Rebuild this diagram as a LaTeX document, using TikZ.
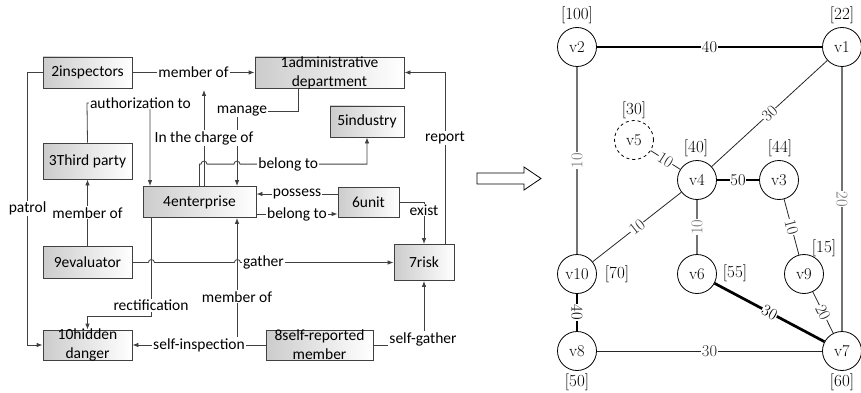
\documentclass[tikz,border=0pt]{standalone}
\usepackage{fontspec}
\newfontfamily\boxfont{Carlito}
\usetikzlibrary{arrows.meta}

\tikzset{
  box/.style={draw=black!75, line width=0.8pt, left color=black!20, right color=white,
    inner sep=0pt, font=\boxfont\fontsize{15.5}{19}\selectfont},
  boxtext/.style={inner sep=0pt, align=center, font=\boxfont\fontsize{15.5}{19}\selectfont},
  conn/.style={draw=black!75, line width=0.8pt},
  arr/.style={conn, -{Latex[length=6pt,width=4.5pt]}},
  lbl/.style={fill=white, inner sep=1pt, font=\boxfont\fontsize{15.5}{19}\selectfont},
  vert/.style={circle, draw, line width=0.8pt, minimum size=39pt, inner sep=0pt,
    font=\fontsize{16.5}{19}\selectfont},
  wt/.style={fill=white, inner sep=0.5pt, font=\fontsize{16.5}{19}\selectfont},
  val/.style={inner sep=0pt, font=\fontsize{17}{19}\selectfont},
  wthick/.style={line width=2.7pt},
  wthin/.style={line width=0.8pt, black!85},
  wgray/.style={line width=1.2pt, black!55},
}

\begin{document}
\begin{tikzpicture}[x=1pt,y=-1pt]
\useasboundingbox (0,0) rectangle (861,393);

% Boxes of the relation diagram
\node[box, minimum width=89pt, minimum height=31pt] (n2) at (87.5,72.5) {2inspectors};
\node[box, minimum width=149pt, minimum height=31pt] (n1) at (329.5,72.5) {};
\node[boxtext] (n1t) at (n1) {1administrative\\department};
\node[box, minimum width=74pt, minimum height=31pt] (n5) at (367,121.5) {5industry};
\node[box, minimum width=89pt, minimum height=36pt] (n3) at (87.5,161) {3Third party};
\node[box, minimum width=113pt, minimum height=31pt] (n4) at (199.5,202) {4enterprise};
\node[box, minimum width=61pt, minimum height=30pt] (n6) at (368.5,202) {6unit};
\node[box, minimum width=89pt, minimum height=32pt] (n9) at (87.5,262.5) {9evaluator};
\node[box, minimum width=60pt, minimum height=36pt] (n7) at (424,262.5) {7risk};
\node[box, minimum width=89pt, minimum height=30pt] (n10) at (87.5,345) {};
\node[boxtext] (n10t) at (n10) {10hidden\\danger};
\node[box, minimum width=107pt, minimum height=30pt] (n8) at (319.5,345) {};
\node[boxtext] (n8t) at (n8) {8self-reported\\member};

% Connectors
\draw[arr] (n2.east) -- node[lbl] {member of} (n1.west);
\draw[arr] ([xshift=-31.5pt]n1.south) |- (237,111) -- ([xshift=37.5pt]n4.north);
\node[lbl] (lmanage) at (242,111) {manage};
\coordinate (chargeend) at (204,90);
\draw[arr] ([xshift=4.5pt]n4.north) -- node[lbl] {In the charge of} (chargeend);
\draw[arr] (n3.north) -- (87,103) -- (150,103) -- ([xshift=-49.5pt]n4.north);
\node[lbl] (lauth) at (140.5,103) {authorization to};
\draw[arr] (n4.north) -- ++(0,-22) -- ++(1.5,0) arc[start angle=180, end angle=360, radius=3]
  -- ++(27,0) arc[start angle=180, end angle=360, radius=3]
  -| node[lbl, pos=0.19] {belong to} (n5.south);
\draw[arr] ([yshift=8pt]n6.west) -- node[lbl] {possess} ([yshift=8pt]n4.east);
\draw[arr] ([yshift=-12pt]n4.east) -- node[lbl] {belong to} ([yshift=-12pt]n6.west);
\draw[arr] (n6.east) -| (n7.north);
\node[lbl] (lexist) at (424,210) {exist};
\draw[arr] ([xshift=21pt]n7.north) |- node[lbl, pos=0.31] {report} (n1.east);
\draw[arr] (n9.north) -- node[lbl] {member of} (n3.south);
\draw[arr] (n2.west) -- ++(-15,0) |- node[lbl, pos=0.25] {patrol} (n10.west);
\coordinate (rc) at (151,316);
\draw[arr] ([xshift=-48.5pt]n4.south) -- node[lbl, pos=0.89] {rectification} (rc) -| (n10.north);
\draw[arr] (n8.west) -| node[lbl, pos=0.69] {member of} ([xshift=37.5pt]n4.south);
\draw[arr] (n8.west) -- node[lbl] {self-inspection} (n10.east);
\draw[arr] (n9.east) -- ++(16,0) arc[start angle=180, end angle=360, radius=3]
  -- ++(80,0) arc[start angle=180, end angle=360, radius=3]
  -- node[lbl, pos=0.15] {gather} (n7.west);
\draw[arr] (n8.east) -| (n7.south);
\node[lbl] (lgather) at (423,339) {self-gather};

% Hollow arrow
\draw[line width=0.8pt] (477,173) -- (524,173) -- (524,167) -- (541,178.5) -- (524,190)
  -- (524,184) -- (477,184) -- cycle;

% Weighted graph
\node[vert] (v2) at (577,47) {v2};
\node[vert] (v1) at (842,47) {v1};
\node[vert, dashed] (v5) at (634,140) {v5};
\node[vert] (v4) at (697,180) {v4};
\node[vert] (v3) at (779,180) {v3};
\node[vert] (v10) at (577,274) {v10};
\node[vert] (v6) at (697,274) {v6};
\node[vert] (v9) at (804,274) {v9};
\node[vert] (v8) at (577,351) {v8};
\node[vert] (v7) at (842,351) {v7};

\node[val] (w2) at (577,15) {[100]};
\node[val] (w1) at (842,15) {[22]};
\node[val] (w5) at (634,110) {[30]};
\node[val] (w4) at (696,148) {[40]};
\node[val] (w3) at (780,148) {[44]};
\node[val] (w10) at (617,274) {[70]};
\node[val] (w6) at (735,273) {[55]};
\node[val] (w9) at (824,248) {[15]};
\node[val] (w8) at (577,382) {[50]};
\node[val] (w7) at (842,382) {[60]};

\draw[wthick] (v2) -- node[wt] {40} (v1);
\draw[wthin] (v1) -- node[wt, sloped] {30} (v4);
\draw[wgray] (v1) -- node[wt, rotate=-90] {20} (v7);
\draw[wgray] (v2) -- node[wt, rotate=90] {10} (v10);
\draw[wthin] (v5) -- node[wt, sloped] {10} (v4);
\draw[wthick] (v4) -- node[wt] {50} (v3);
\draw[wthin] (v4) -- node[wt, sloped] {10} (v10);
\draw[wgray] (v4) -- node[wt, rotate=90] {10} (v6);
\draw[wthin] (v3) -- node[wt, sloped] {10} (v9);
\draw[wthin] (v9) -- node[wt, sloped] {20} (v7);
\draw[wthick] (v6) -- node[wt, sloped] {30} (v7);
\draw[wthin] (v8) -- node[wt] {30} (v7);
\draw[wthick] (v10) -- node[wt, rotate=-90] {40} (v8);
\end{tikzpicture}
\end{document}
